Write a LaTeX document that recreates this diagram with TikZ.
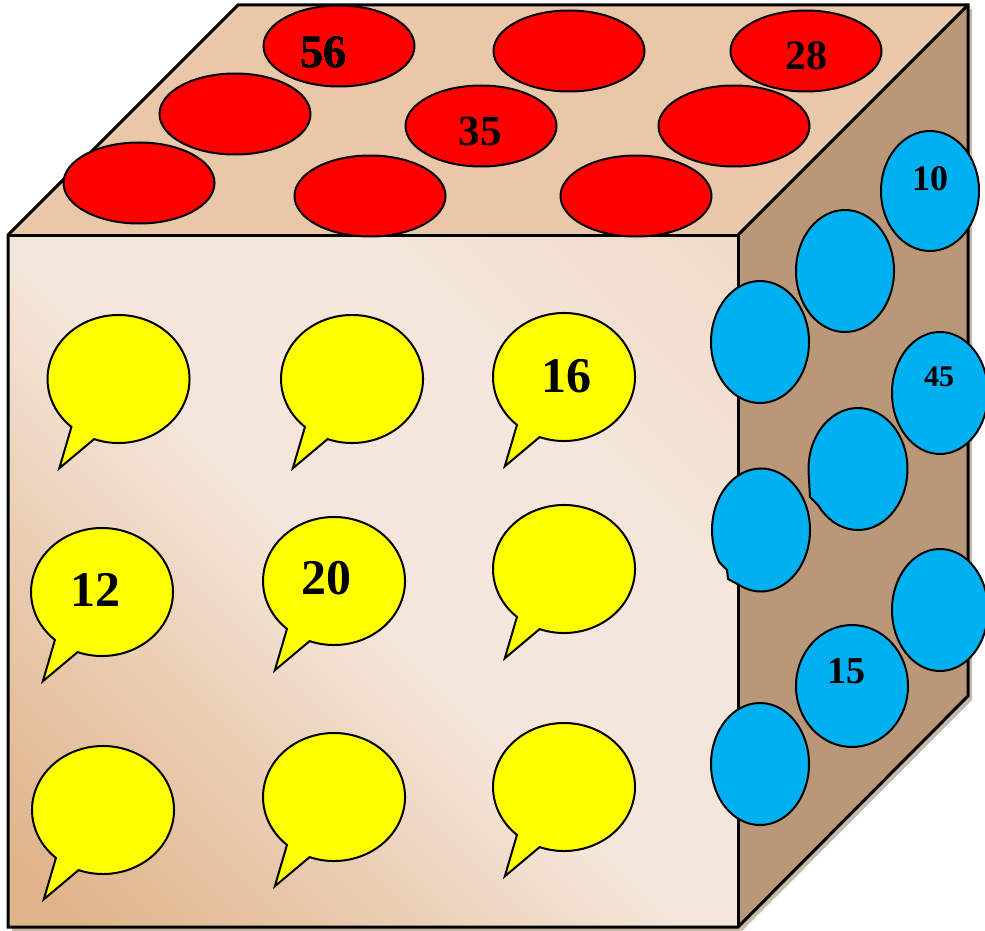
\documentclass[tikz,border=0pt]{standalone}
\usepackage{fontspec}
\setmainfont{Liberation Serif}
\usetikzlibrary{calc}
\definecolor{topface}{HTML}{E8C8A8}
\definecolor{sideface}{HTML}{B89878}
\definecolor{frontdark}{HTML}{E0B48A}
\definecolor{frontmid}{HTML}{EACDB2}
\definecolor{frontlight}{HTML}{F4E6DA}
\definecolor{fronttop}{HTML}{EFDBC9}
\definecolor{shadowc}{HTML}{C8BAAB}
\definecolor{bubyellow}{HTML}{FFFF00}
\definecolor{capred}{HTML}{FF0000}
\definecolor{dotblue}{HTML}{00B0F0}
\pgfdeclarehorizontalshading{frontshade}{100bp}{color(0bp)=(frontdark); color(18bp)=(frontdark); color(34bp)=(frontmid); color(48bp)=(frontlight); color(68bp)=(frontlight); color(84bp)=(fronttop); color(100bp)=(fronttop)}
\newcommand\speechat[1]{\path[speech] ([shift={(249.9:71 and 64)}]#1) arc[start angle=249.9,end angle=588.5,x radius=71,y radius=64] -- ([shift={(-59.2,-89.3)}]#1) -- cycle;}
\begin{document}
\begin{tikzpicture}[x=1pt,y=1pt,
  face/.style={draw=black,line width=3pt,line join=miter},
  redcap/.style={fill=capred,draw=black,line width=2pt},
  bluedot/.style={fill=dotblue,draw=black,line width=2pt,line join=miter},
  speech/.style={fill=bubyellow,draw=black,line width=2pt,line join=miter},
  num/.style={font=\bfseries,inner sep=0pt,text=black}]
\useasboundingbox (0,0) rectangle (985,-931);
% cube corners
\coordinate (FTL) at (8,-235);
\coordinate (FTR) at (738,-235);
\coordinate (FBR) at (738,-927);
\coordinate (FBL) at (8,-927);
\coordinate (BTL) at (238,-5);
\coordinate (BTR) at (968,-5);
\coordinate (BBR) at (968,-696);
% shadow
\fill[shadowc] ([shift={(4,-4)}]FBL) -- ([shift={(4,-4)}]FTL) -- ([shift={(4,-4)}]BTL) -- ([shift={(4,-4)}]BTR) -- ([shift={(4,-4)}]BBR) -- ([shift={(4,-4)}]FBR) -- cycle;
% faces
\fill[topface] (FTL) -- (BTL) -- (BTR) -- (FTR) -- cycle;
\fill[sideface] (FTR) -- (BTR) -- (BBR) -- (FBR) -- cycle;
\shade[shading=frontshade,shading angle=45] (FTL) rectangle (FBR);
\draw[face] (FTL) -- (BTL) -- (BTR) -- (BBR) -- (FBR) -- (FBL) -- cycle;
\draw[face] (FTL) -- (FTR) -- (FBR);
\draw[face] (FTR) -- (BTR);
% red caps on top
\coordinate (r1) at (339,-46);
\coordinate (r2) at (569,-51);
\coordinate (r3) at (806,-51);
\coordinate (r4) at (235,-114);
\coordinate (r5) at (481,-126);
\coordinate (r6) at (734,-126);
\coordinate (r7) at (139,-183);
\coordinate (r8) at (370,-196);
\coordinate (r9) at (636,-196);
\foreach \r in {r1,r2,r3,r4,r5,r6,r7,r8,r9}
  \path[redcap] (\r) ellipse[x radius=75.5,y radius=40.5];
% blue dots on the right face
\coordinate (d1) at (930,-191);
\coordinate (d2) at (845,-271);
\coordinate (d3) at (760,-342);
\coordinate (d4) at (940,-393);
\coordinate (d5) at (858,-469);
\coordinate (d6) at (761,-530);
\coordinate (d7) at (940,-610);
\coordinate (d8) at (852,-686);
\coordinate (d9) at (760,-764);
\path[bluedot] (d1) ellipse[x radius=49,y radius=60];
\path[bluedot] (d2) ellipse[x radius=49,y radius=61];
\path[bluedot] (d3) ellipse[x radius=49,y radius=61];
\path[bluedot] (d4) ellipse[x radius=48,y radius=61];
\path[bluedot] ([shift={(216.8:49.5 and 61)}]d5) arc[start angle=216.8,end angle=546.6,x radius=49.5,y radius=61] -- ([shift={(-48,-28)}]d5) -- cycle;
\path[bluedot] ([shift={(242:49 and 61.5)}]d6) arc[start angle=242,end angle=571.3,x radius=49,y radius=61.5] -- ([shift={(-34,-40)}]d6) -- ([shift={(-33,-49)}]d6) -- cycle;
\path[bluedot] (d7) ellipse[x radius=48,y radius=61];
\path[bluedot] (d8) ellipse[x radius=56,y radius=61];
\path[bluedot] (d9) ellipse[x radius=49,y radius=61];
% speech bubbles on the front
\coordinate (b11) at (118.5,-379);
\coordinate (b12) at (352,-379);
\coordinate (b13) at (564,-377);
\coordinate (b21) at (102,-592);
\coordinate (b22) at (334,-581);
\coordinate (b23) at (564,-569);
\coordinate (b31) at (103,-810);
\coordinate (b32) at (334,-797);
\coordinate (b33) at (564,-787);
\foreach \b in {b11,b12,b13,b21,b22,b23,b31,b32,b33}
  \speechat{\b}
% numbers
\node[num,font=\fontsize{46}{50}\selectfont\bfseries] (n56) at (323,-52) {56};
\node[num,font=\fontsize{42}{46}\selectfont\bfseries] (n28) at (806,-56) {28};
\node[num,font=\fontsize{43}{47}\selectfont\bfseries] (n35) at (480,-131) {35};
\node[num,font=\fontsize{36}{40}\selectfont\bfseries] (n10) at (930,-179) {10};
\node[num,font=\fontsize{30}{34}\selectfont\bfseries] (n45) at (939,-377) {45};
\node[num,font=\fontsize{38}{42}\selectfont\bfseries] (n15) at (846,-671) {15};
\node[num,font=\fontsize{50}{55}\selectfont\bfseries] (n16) at (566,-376) {16};
\node[num,font=\fontsize{50}{55}\selectfont\bfseries] (n12) at (95,-590) {12};
\node[num,font=\fontsize{50}{55}\selectfont\bfseries] (n20) at (326,-578) {20};
\end{tikzpicture}
\end{document}
